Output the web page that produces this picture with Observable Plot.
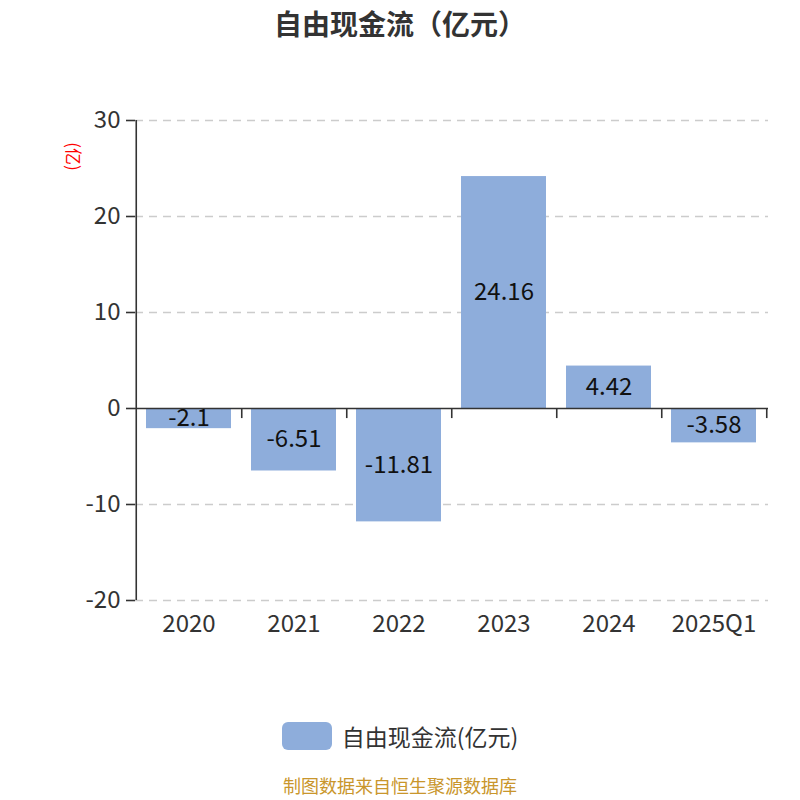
<!DOCTYPE html>
<html>
<head>
<meta charset="utf-8">
<script src="https://cdn.jsdelivr.net/npm/d3@7"></script>
<script src="https://cdn.jsdelivr.net/npm/@observablehq/plot@0.6"></script>
<style>
  html, body { margin: 0; padding: 0; background: #fff; }
  body { width: 800px; height: 800px; position: relative; font-family: "Noto Sans CJK SC", "Noto Sans", sans-serif; overflow: hidden; }
  #title { position: absolute; left: 0; top: 0; width: 800px; height: 46px; line-height: 46px; text-align: center; font-size: 28px; font-weight: bold; color: #333; }
  #chart { position: absolute; left: 0; top: 60px; }
  #legend { position: absolute; left: 0; top: 721px; width: 800px; height: 30px; display: flex; justify-content: center; align-items: center; font-size: 23px; color: #333; }
  #legend .sw { width: 50px; height: 28px; border-radius: 6px; background: #8eaddb; margin-right: 10px; }
  #caption { position: absolute; left: 0; top: 775px; width: 800px; height: 20px; line-height: 20px; text-align: center; font-size: 18px; color: #c9962c; }
</style>
</head>
<body>
<div id="title">自由现金流（亿元）</div>
<div id="chart"></div>
<div id="legend"><div class="sw"></div><span>自由现金流(亿元)</span></div>
<div id="caption">制图数据来自恒生聚源数据库</div>
<script>
const categories = ["2020", "2021", "2022", "2023", "2024", "2025Q1"];
const values = [-2.1, -6.51, -11.81, 24.16, 4.42, -3.58];
const yTicks = [-20, -10, 0, 10, 20, 30];
const yLabel = "(亿)";

const data = categories.map((c, i) => ({category: c, value: values[i]}));

const W = 800, H = 600, mL = 135, mR = 32, mT = 60, mB = 60;
const step = (W - mL - mR) / categories.length;

const chart = Plot.plot({
  width: W,
  height: H,
  marginTop: mT,
  marginBottom: mB,
  marginLeft: mL,
  marginRight: mR,
  style: {fontFamily: "'Noto Sans CJK SC', 'Noto Sans', sans-serif", color: "#333", background: "#fff"},
  x: {type: "band", domain: categories, paddingInner: 0.19, paddingOuter: 0.095, axis: null},
  y: {domain: [-20, 30], axis: null},
  marks: [
    Plot.ruleY(yTicks.filter(d => d !== 0), {y: d => d, stroke: "#cccccc", strokeWidth: 1.3, strokeDasharray: "8,6"}),
    Plot.barY(data, {x: "category", y: "value", fill: "#8eaddb"}),
    Plot.ruleY([0], {y: d => d, stroke: "#333", strokeWidth: 1.6}),
    Plot.ruleX([categories[0]], {x: d => d, dx: -step / 2, stroke: "#333", strokeWidth: 1.6}),
    Plot.ruleX(categories, {x: d => d, y1: 0, y2: -1.05, dx: step / 2, stroke: "#333", strokeWidth: 1.6}),
    Plot.axisY({ticks: yTicks, label: null, tickSize: 9, tickPadding: 6, tickFormat: d => String(d), fontSize: 24, stroke: "#333", strokeWidth: 1.6, fill: "#333"}),
    Plot.axisX({label: null, tickSize: 0, tickPadding: 14, fontSize: 24, fill: "#333"}),
    Plot.text(data, {x: "category", y: d => d.value / 2, text: d => String(d.value), fill: "#111", fontSize: 24}),
    Plot.text([yLabel], {text: d => d, frameAnchor: "top-left", dx: -63, dy: 36, rotate: 90, textAnchor: "middle", lineAnchor: "middle", fill: "#ff0000", fontSize: 17})
  ]
});
document.getElementById("chart").appendChild(chart);
</script>
</body>
</html>
